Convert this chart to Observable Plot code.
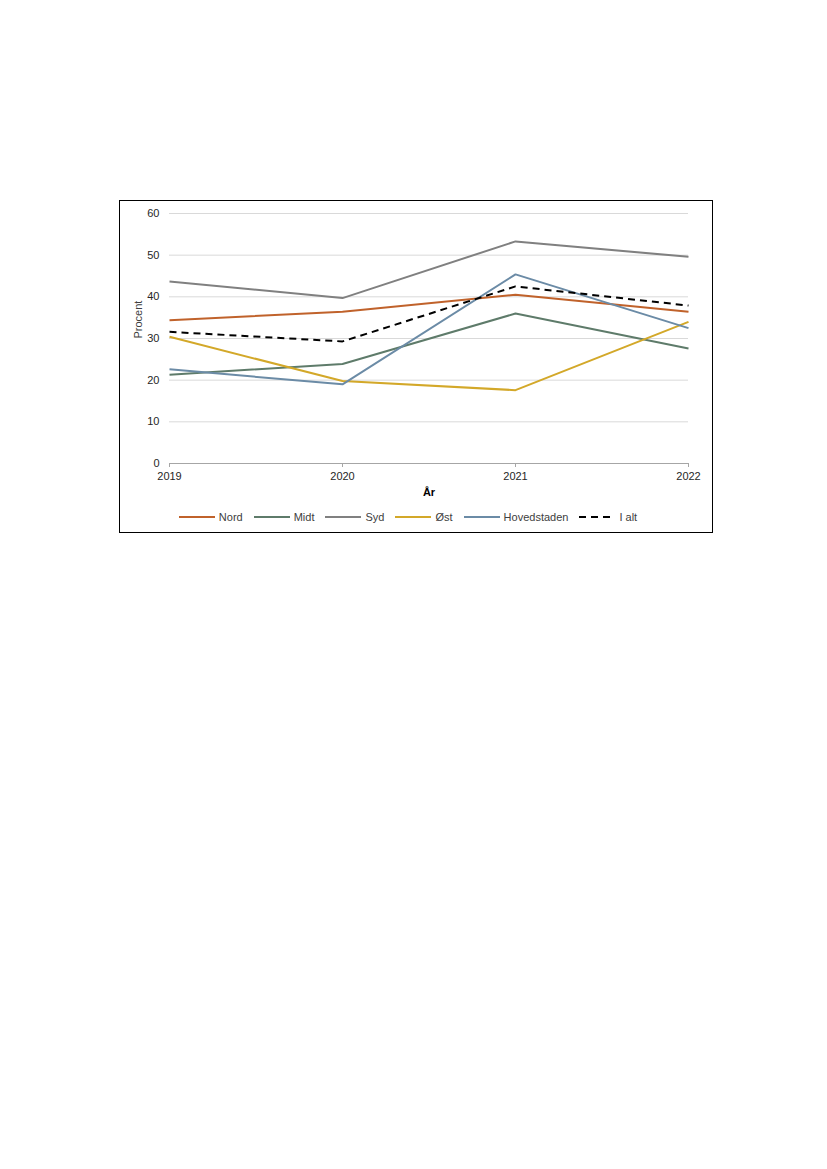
<!DOCTYPE html>
<html>
<head>
<meta charset="utf-8">
<script src="https://cdn.jsdelivr.net/npm/d3@7"></script>
<script src="https://cdn.jsdelivr.net/npm/@observablehq/plot@0.6"></script>
<style>
  html, body { margin: 0; padding: 0; background: #fff; }
  body { width: 827px; height: 1169px; position: relative; font-family: "Liberation Sans", Arial, sans-serif; }
  #box { position: absolute; left: 119px; top: 200px; width: 592px; height: 331px; border: 1.3px solid #000; box-sizing: content-box; }
  #legend { position: absolute; left: -8px; top: 310px; width: 100%; display: flex; justify-content: center; gap: 11px; font-size: 11px; color: #404040; }
  .item { display: flex; align-items: center; gap: 4px; }
  .item svg { display: block; }
</style>
</head>
<body>
<div id="box"><div id="chart"></div><div id="legend"></div></div>
<script>
const years = [2019, 2020, 2021, 2022];
const seriesNames = ["Nord", "Midt", "Syd", "Øst", "Hovedstaden", "I alt"];
const nord = [34.4, 36.4, 40.5, 36.4];
const midt = [21.3, 23.9, 36.0, 27.6];
const syd = [43.7, 39.7, 53.3, 49.6];
const oest = [30.4, 19.8, 17.6, 34.0];
const hovedstaden = [22.6, 19.0, 45.4, 32.5];
const iAlt = [31.6, 29.3, 42.5, 37.9];
const yTicks = [0, 10, 20, 30, 40, 50, 60];
const colors = ["#C0622B", "#5E7B6A", "#808080", "#D3A829", "#6B8BA6", "#000000"];
const dashes = [null, null, null, null, null, "7,5"];

const valuesBySeries = [nord, midt, syd, oest, hovedstaden, iAlt];
const data = [];
seriesNames.forEach((s, i) => years.forEach((y, j) => data.push({series: s, year: y, value: valuesBySeries[i][j]})));

const chart = Plot.plot({
  width: 592,
  height: 305,
  marginLeft: 49,
  marginRight: 24,
  marginTop: 12,
  marginBottom: 43,
  style: {fontFamily: "Liberation Sans, Arial, sans-serif", fontSize: "11px", color: "#262626", background: "transparent"},
  x: {domain: [2019, 2022], ticks: years, tickFormat: d => String(d)},
  y: {domain: [0, 60], ticks: yTicks},
  marks: [
    Plot.gridY(yTicks.filter(t => t > 0), {stroke: "#d9d9d9", strokeOpacity: 1, strokeWidth: 1}),
    Plot.ruleY([0], {stroke: "#a6a6a6", strokeWidth: 1}),
    Plot.axisY({ticks: yTicks, tickSize: 0, tickPadding: 10, label: null, fill: "#262626"}),
    Plot.axisX({ticks: years, tickSize: 4, tickPadding: 5, label: null, stroke: "#a6a6a6", fill: "#262626", tickFormat: d => String(d)}),
    ...seriesNames.map((s, i) => Plot.line(data.filter(d => d.series === s), {
      x: "year", y: "value",
      stroke: colors[i], strokeWidth: 2,
      strokeDasharray: dashes[i] || undefined,
      strokeLinejoin: "miter", strokeLinecap: "butt"
    })),
    Plot.text(["År"], {frameAnchor: "bottom", dy: 32, fontWeight: "bold", fontSize: 11, fill: "#000"}),
    Plot.text(["Procent"], {frameAnchor: "left", dx: -31, rotate: -90, fontSize: 11, fill: "#404040"})
  ]
});
document.getElementById("chart").appendChild(chart);

const legend = document.getElementById("legend");
seriesNames.forEach((s, i) => {
  const item = document.createElement("div");
  item.className = "item";
  const dash = dashes[i] ? `stroke-dasharray="7,5"` : "";
  item.innerHTML = `<svg width="36" height="6"><line x1="0" y1="3" x2="36" y2="3" stroke="${colors[i]}" stroke-width="2" ${dash}/></svg><span>${s}</span>`;
  legend.appendChild(item);
});
</script>
</body>
</html>
